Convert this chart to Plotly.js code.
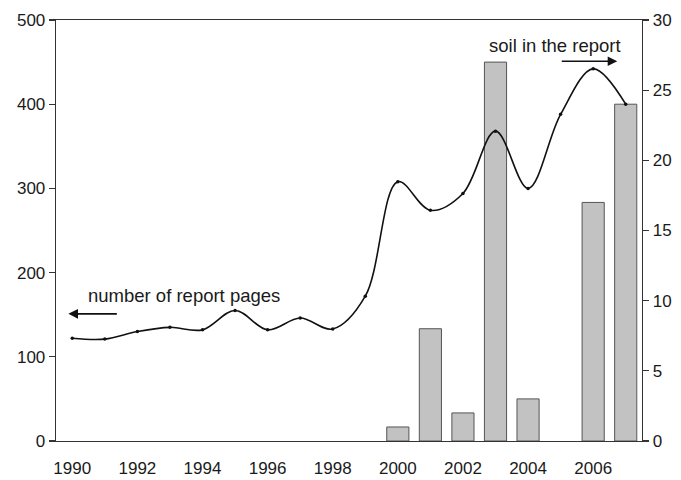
<!DOCTYPE html>
<html>
<head>
<meta charset="utf-8">
<script src="https://cdn.plot.ly/plotly-3.0.1.min.js"></script>
<style>html,body{margin:0;padding:0;background:#fff}#chart{width:681px;height:480px}</style>
</head>
<body>
<div id="chart"></div>
<script>
// Data
const years = [1990,1991,1992,1993,1994,1995,1996,1997,1998,1999,2000,2001,2002,2003,2004,2005,2006,2007];
const reportPages = [122,121,130,135,132,155,132,146,133,172,308,274,294,368,300,388,442,400];
const soilYears = [2000,2001,2002,2003,2004,2006,2007];
const soilCounts = [1,8,2,27,3,17,24];
const yearTickVals = [1990,1992,1994,1996,1998,2000,2002,2004,2006];
const yearTickText = ['1990','1992','1994','1996','1998','2000','2002','2004','2006'];
const boundaryTicks = [1990.5,1991.5,1992.5,1993.5,1994.5,1995.5,1996.5,1997.5,1998.5,1999.5,2000.5,2001.5,2002.5,2003.5,2004.5,2005.5,2006.5];

const axisColor = '#333';
const fontFam = '"Liberation Sans", Arial, sans-serif';

const bars = {
  type: 'bar', x: soilYears, y: soilCounts, xaxis: 'x', yaxis: 'y',
  width: 0.68,
  marker: {color: '#c2c2c2', line: {color: '#555', width: 1}},
  hoverinfo: 'skip', showlegend: false
};
const line = {
  type: 'scatter', mode: 'lines+markers', x: years, y: reportPages, xaxis: 'x', yaxis: 'y2',
  line: {color: '#111', width: 1.6, shape: 'spline', smoothing: 1},
  marker: {color: '#111', size: 3.5},
  showlegend: false
};

const layout = {
  width: 681, height: 480,
  margin: {l: 56, r: 39, t: 20, b: 39},
  paper_bgcolor: '#fff', plot_bgcolor: '#fff',
  font: {family: fontFam, size: 17, color: '#1a1a1a'},
  showlegend: false,
  xaxis: {
    range: [1989.5, 2007.5], tickmode: 'array', tickvals: yearTickVals, ticktext: yearTickText,
    ticks: '', ticklen: 0, showgrid: false, zeroline: false,
    showline: true, mirror: true, linecolor: axisColor, linewidth: 1.3,
    tickfont: {size: 17, color: '#1a1a1a'}, ticklabelstandoff: 11
  },
  xaxis2: {
    overlaying: 'x', anchor: 'y', side: 'bottom', range: [1989.5, 2007.5],
    tickmode: 'array', tickvals: boundaryTicks, showticklabels: false,
    ticks: 'outside', ticklen: 5, tickwidth: 1.2, tickcolor: axisColor,
    showgrid: false, zeroline: false, showline: false
  },
  yaxis: {
    side: 'right', range: [0, 30], tickmode: 'linear', tick0: 0, dtick: 5,
    ticks: 'outside', ticklen: 6, tickwidth: 1.2, tickcolor: axisColor,
    showgrid: false, zeroline: false, showline: true, linecolor: axisColor, linewidth: 1.3,
    tickfont: {size: 17, color: '#1a1a1a'}
  },
  yaxis2: {
    overlaying: 'y', side: 'left', anchor: 'x', range: [0, 500], tickmode: 'linear', tick0: 0, dtick: 100,
    ticks: 'outside', ticklen: 6, tickwidth: 1.2, tickcolor: axisColor,
    showgrid: false, zeroline: false, showline: true, linecolor: axisColor, linewidth: 1.3,
    tickfont: {size: 17, color: '#1a1a1a'}
  },
  annotations: [
    {xref: 'x', yref: 'y2', x: 1993.44, y: 173, text: 'number of report pages', showarrow: false,
     font: {size: 18.5, color: '#1a1a1a'}, xanchor: 'center', yanchor: 'middle'},
    {xref: 'x', yref: 'y2', x: 1989.88, y: 151, text: '', showarrow: true, ax: 50, ay: 0,
     arrowhead: 2, arrowsize: 1.2, arrowwidth: 1.6, arrowcolor: '#111', standoff: 0},
    {xref: 'x', yref: 'y2', x: 2004.84, y: 470, text: 'soil in the report', showarrow: false,
     font: {size: 18.5, color: '#1a1a1a'}, xanchor: 'center', yanchor: 'middle'},
    {xref: 'x', yref: 'y2', x: 2006.74, y: 451, text: '', showarrow: true, ax: -57, ay: 0,
     arrowhead: 2, arrowsize: 1.2, arrowwidth: 1.6, arrowcolor: '#111', standoff: 0}
  ]
};

Plotly.newPlot('chart', [bars, line], layout, {displayModeBar: false, staticPlot: true});
</script>
</body>
</html>
